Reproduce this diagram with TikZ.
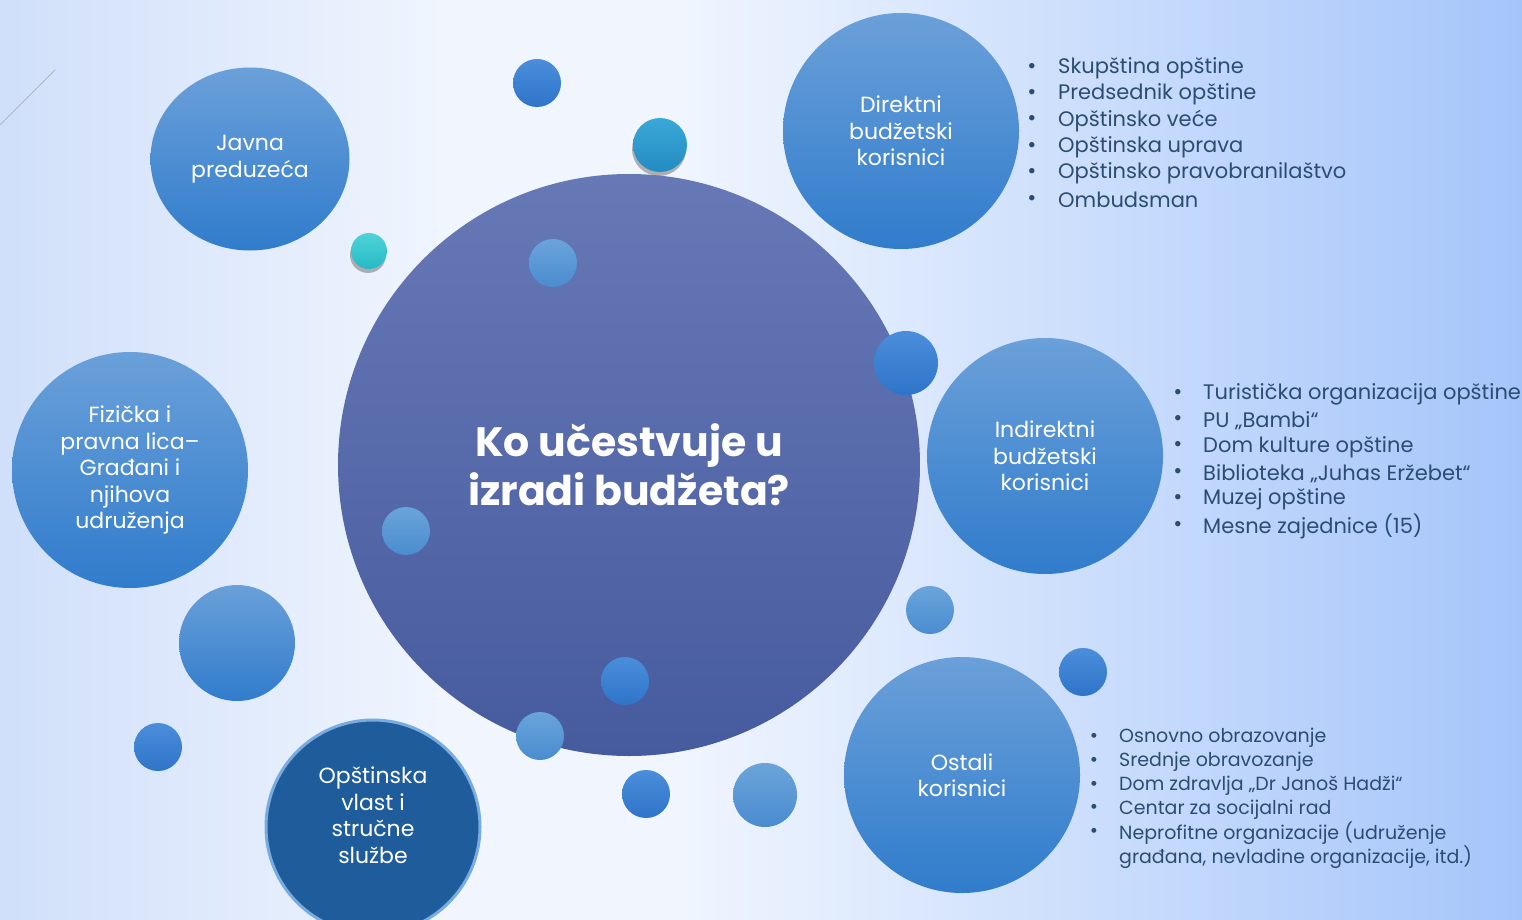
\documentclass[tikz,border=0pt]{standalone}
\usepackage{fontspec}
\setmainfont{Poppins}
\usetikzlibrary{shapes.geometric,shadows}

\definecolor{bgleft}{HTML}{D0DFFA}
\definecolor{bgmid}{HTML}{F1F6FE}
\definecolor{bgright}{HTML}{A5C5FA}
\definecolor{bubtop}{HTML}{6BA0D9}
\definecolor{bubbot}{HTML}{307CCC}
\definecolor{dottop}{HTML}{4A8EDB}
\definecolor{dotbot}{HTML}{2F74C8}
\definecolor{palettop}{HTML}{6AA4DB}
\definecolor{paledbot}{HTML}{4A8CCF}
\definecolor{skytop}{HTML}{3AA8D8}
\definecolor{skybot}{HTML}{238CC2}
\definecolor{tealtop}{HTML}{4FD3DA}
\definecolor{tealbot}{HTML}{27BAC4}
\definecolor{hubtop}{HTML}{6778B6}
\definecolor{hubbot}{HTML}{465B9E}
\definecolor{vlastfill}{HTML}{1F5C9C}
\definecolor{vlastrim}{HTML}{78ACE0}
\definecolor{itemcol}{HTML}{2C4D72}

% the path is fitted to the 25bp--75bp part of the shading
\pgfdeclarehorizontalshading{bgshade}{100bp}{color(0bp)=(bgleft); color(25bp)=(bgleft); color(40bp)=(bgmid); color(47bp)=(bgmid); color(75bp)=(bgright); color(100bp)=(bgright)}

\begin{document}
\begin{tikzpicture}[x=1pt,y=-1pt]
    \tikzstyle{bubble}=[circle,inner sep=0pt,minimum size=236pt,top color=bubtop,bottom color=bubbot,text=white,align=center,font=\fontsize{22}{26.5}\selectfont]
    \tikzstyle{dot}=[circle,inner sep=0pt,minimum size=48pt,top color=dottop,bottom color=dotbot]
    \tikzstyle{paledot}=[dot,top color=palettop,bottom color=paledbot]
    \tikzstyle{item}=[anchor=west,inner sep=0pt,text=itemcol,font=\fontsize{21}{25}\selectfont]
    \tikzstyle{bulletdot}=[inner sep=0pt,text=itemcol,font=\fontsize{22}{22}\selectfont]

    % background
    \shade[shading=bgshade] (0,0) rectangle (1522,920);
    \useasboundingbox (0,0) rectangle (1522,920);
    \draw[color=itemcol!40,line width=0.8pt] (0,125) -- (55,70);

    % small dots behind
    \node[dot] (d1) at (537,83) {};
    \node[circle,inner sep=0pt,minimum size=54pt,top color=skytop,bottom color=skybot,drop shadow={shadow xshift=-1pt,shadow yshift=-4pt,opacity=.6}] (d2) at (660,145) {};

    % centre
    \node[circle,inner sep=0pt,minimum size=582pt,top color=hubtop,bottom color=hubbot,text=white,align=center,font=\fontsize{41}{49}\selectfont\bfseries] (hub) at (629,465) {Ko učestvuje u\\izradi budžeta?};

    % participants
    \node[bubble,ellipse,minimum width=199pt,minimum height=183pt] (javna) at (250,159) {Javna\\preduzeća};
    \node[bubble] (fizicka) at (130,470) {Fizička i\\pravna lica–\\Građani i\\njihova\\udruženja};
    \node[bubble] (direktni) at (901,131) {Direktni\\budžetski\\korisnici};
    \node[bubble] (indirektni) at (1045,456) {Indirektni\\budžetski\\korisnici};
    \node[bubble] (ostali) at (962,775) {Ostali\\korisnici};
    \node[bubble,minimum size=116pt] (prazan) at (237,643) {};
    \node[circle,inner sep=0pt,minimum size=214pt,fill=vlastfill,draw=vlastrim,line width=3pt] (vlast) at (373,827) {};
    \node[text=white,align=center,font=\fontsize{22}{26.5}\selectfont] (vlasttxt) at (373,815) {Opštinska\\vlast i\\stručne\\službe};

    % small dots
    \node[circle,inner sep=0pt,minimum size=36pt,top color=tealtop,bottom color=tealbot,drop shadow={shadow xshift=-1pt,shadow yshift=-4pt,opacity=.6}] (d3) at (369,251) {};
    \node[paledot] (d4) at (553,263) {};
    \node[dot,minimum size=64pt] (d5) at (906,363) {};
    \node[paledot] (d6) at (406,531) {};
    \node[paledot] (d7) at (930,610) {};
    \node[dot] (d8) at (625,681) {};
    \node[paledot] (d9) at (540,736) {};
    \node[dot] (d10) at (1083,672) {};
    \node[dot] (d11) at (158,747) {};
    \node[dot] (d12) at (646,794) {};
    \node[paledot,minimum size=64pt] (d13) at (765,795) {};

    % lists
    \foreach \txt [count=\i] in {Skupština opštine,Predsednik opštine,Opštinsko veće,Opštinska uprava,Opštinsko pravobranilaštvo,Ombudsman}{
        \node[item] (dir\i) at (1058,68+26.4*\i-26.4) {\txt};
        \node[bulletdot] at (1032,68+26.4*\i-26.4) {•};
    }
    \foreach \txt [count=\i] in {Turistička organizacija opštine,PU „Bambi“,Dom kulture opštine,Biblioteka „Juhas Eržebet“,Muzej opštine,Mesne zajednice (15)}{
        \node[item] (ind\i) at (1203,394+26.4*\i-26.4) {\txt};
        \node[bulletdot] at (1178,394+26.4*\i-26.4) {•};
    }
    \foreach \txt [count=\i] in {Osnovno obrazovanje,Srednje obravozanje,Dom zdravlja „Dr Janoš Hadži“,Centar za socijalni rad,Neprofitne organizacije (udruženje}{
        \node[item,font=\fontsize{19}{23}\selectfont] (ost\i) at (1119,738+23.8*\i-23.8) {\txt};
        \node[bulletdot,font=\fontsize{20}{20}\selectfont] at (1094,738+23.8*\i-23.8) {•};
    }
    \node[item,font=\fontsize{19}{23}\selectfont] (ost6) at (1119,857) {građana, nevladine organizacije, itd.)};
\end{tikzpicture}
\end{document}
